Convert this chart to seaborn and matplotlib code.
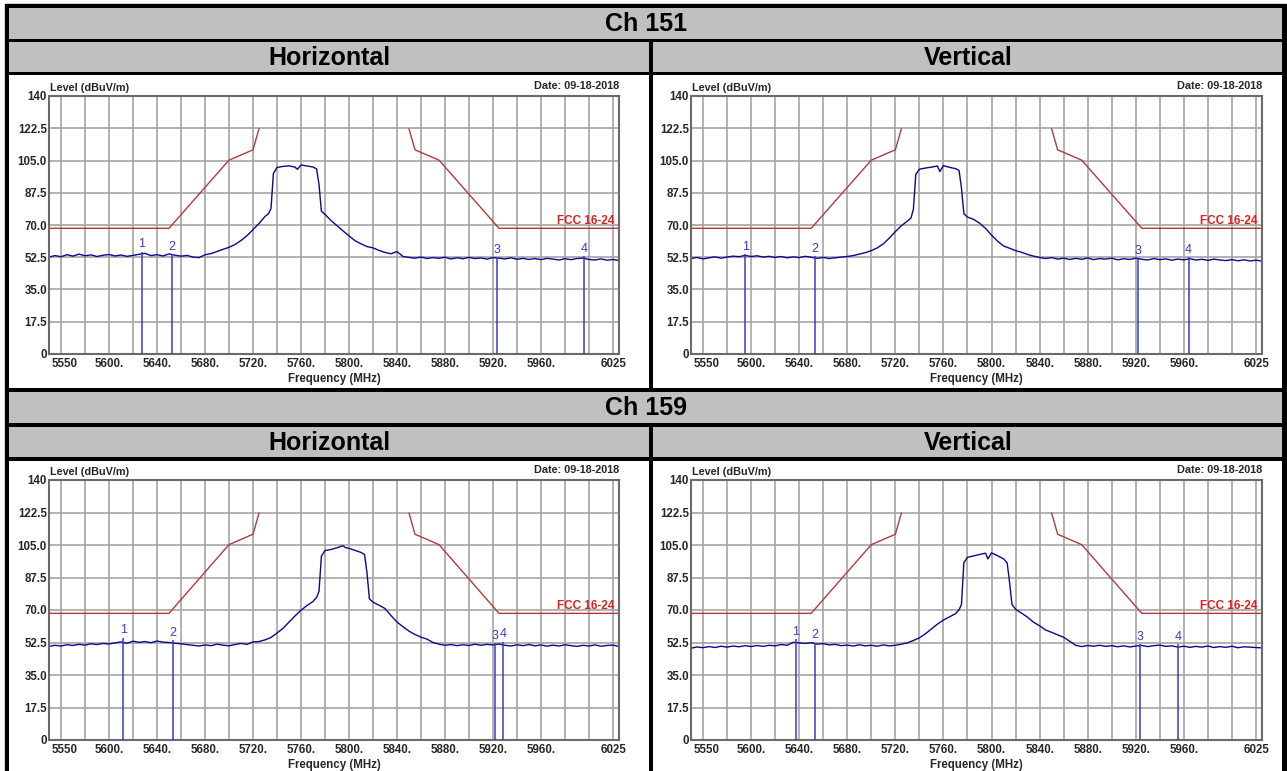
import numpy as np
import pandas as pd
import seaborn as sns
import matplotlib.pyplot as plt
import matplotlib.transforms as mtransforms
from matplotlib.patches import Rectangle

## Data
channels = ["Ch 151", "Ch 159"]
polarities = ["Horizontal", "Vertical"]
date_text = "Date: 09-18-2018"
limit_name = "FCC 16-24"

x_ticks = [5550, 5600, 5640, 5680, 5720, 5760, 5800, 5840, 5880, 5920, 5960, 6025]
x_tick_labels = ["5550", "5600.", "5640.", "5680.", "5720.", "5760.", "5800.",
                 "5840.", "5880.", "5920.", "5960.", "6025"]
x_grid = [5560, 5580, 5600, 5620, 5640, 5660, 5680, 5700, 5720, 5740, 5760, 5780,
          5800, 5820, 5840, 5860, 5880, 5900, 5920, 5940, 5960, 5980, 6000, 6020]
y_ticks = [0, 17.5, 35.0, 52.5, 70.0, 87.5, 105.0, 122.5, 140]
y_tick_labels = ["0", "17.5", "35.0", "52.5", "70.0", "87.5", "105.0", "122.5", "140"]

# FCC limit mask (dBuV/m)
mask_lo_f = [5550, 5650, 5700, 5720, 5725]
mask_lo_l = [68.2, 68.2, 105.2, 110.8, 122.2]
mask_hi_f = [5850, 5855, 5875, 5925, 6025]
mask_hi_l = [122.2, 110.8, 105.2, 68.2, 68.2]

# sweep frequencies (MHz)
freq_151 = [5550, 5555, 5560, 5565, 5570, 5575, 5580, 5585, 5590, 5595,
            5600, 5605, 5610, 5615, 5620, 5625, 5630, 5635, 5640, 5645,
            5650, 5655, 5660, 5665, 5670, 5675, 5680, 5685, 5690, 5695,
            5700, 5705, 5710, 5715, 5720, 5725, 5730, 5733, 5735, 5737,
            5740, 5745, 5750, 5755, 5757, 5760, 5765, 5770, 5773, 5775,
            5777, 5780, 5785, 5790, 5795, 5800, 5805, 5810, 5815, 5820,
            5825, 5830, 5835, 5840, 5845, 5850, 5855, 5860, 5865, 5870,
            5875, 5880, 5885, 5890, 5895, 5900, 5905, 5910, 5915, 5920,
            5925, 5930, 5935, 5940, 5945, 5950, 5955, 5960, 5965, 5970,
            5975, 5980, 5985, 5990, 5995, 6000, 6005, 6010, 6015, 6020,
            6025]
freq_159 = [5550, 5555, 5560, 5565, 5570, 5575, 5580, 5585, 5590, 5595,
            5600, 5605, 5610, 5615, 5620, 5625, 5630, 5635, 5640, 5645,
            5650, 5655, 5660, 5665, 5670, 5675, 5680, 5685, 5690, 5695,
            5700, 5705, 5710, 5715, 5720, 5725, 5730, 5735, 5740, 5745,
            5750, 5755, 5760, 5765, 5770, 5773, 5775, 5777, 5780, 5785,
            5790, 5795, 5797, 5800, 5805, 5810, 5813, 5815, 5817, 5820,
            5825, 5830, 5835, 5840, 5845, 5850, 5855, 5860, 5865, 5870,
            5875, 5880, 5885, 5890, 5895, 5900, 5905, 5910, 5915, 5920,
            5925, 5930, 5935, 5940, 5945, 5950, 5955, 5960, 5965, 5970,
            5975, 5980, 5985, 5990, 5995, 6000, 6005, 6010, 6015, 6020,
            6025]

# measured levels (dBuV/m)
level_151_h = [52.6, 53.4, 52.8, 53.9, 53.1, 54.2, 53.3, 53.8, 52.9, 53.6,
               54.0, 53.2, 53.7, 53.0, 53.5, 54.1, 54.6, 53.4, 53.9, 53.2,
               54.3, 53.6, 53.1, 53.5, 52.6, 52.3, 53.8, 54.5, 55.6, 56.8,
               57.9, 59.4, 61.6, 64.2, 67.5, 70.8, 74.6, 76.2, 78.9, 98.0,
               101.2, 101.8, 102.1, 101.4, 100.2, 102.6, 102.0, 101.5, 100.4, 92.0,
               77.5, 75.8, 72.4, 69.6, 66.8, 64.1, 61.5, 59.8, 58.3, 57.6,
               56.2, 55.1, 54.4, 55.6, 52.9, 52.4, 52.0, 52.6, 51.8, 52.3,
               51.9, 52.5, 51.6, 52.2, 51.7, 52.4, 51.8, 52.1, 51.5, 52.3,
               52.0, 51.6, 52.2, 51.4, 51.9, 51.3, 51.8, 51.2, 51.9, 51.5,
               51.0, 51.7, 51.2, 51.8, 52.0, 51.3, 51.0, 51.6, 50.9, 51.3,
               50.7]
level_151_v = [51.8, 52.4, 51.6, 52.2, 52.7, 52.0, 52.6, 53.1, 52.8, 53.5,
               52.9, 53.3, 52.6, 53.0, 52.4, 52.9, 52.2, 52.7, 52.3, 53.0,
               52.5, 51.9, 52.4, 51.8, 52.2, 52.6, 52.9, 53.4, 54.2, 55.0,
               56.1, 57.6, 59.8, 62.9, 66.4, 69.6, 72.1, 73.8, 78.5, 97.5,
               100.3, 100.9, 101.4, 102.0, 99.0, 102.2, 101.3, 100.6, 99.6, 90.0,
               76.2, 74.3, 73.1, 71.0, 68.2, 64.5, 61.3, 58.6, 57.4, 56.1,
               55.2, 54.0, 53.1, 52.4, 51.8, 52.3, 51.5, 52.0, 51.3, 51.9,
               51.4, 52.1, 51.2, 51.8, 51.5, 52.0, 51.1, 51.7, 51.3, 52.0,
               51.4, 51.0, 51.8, 51.2, 51.6, 50.9, 51.5, 51.1, 51.7, 51.0,
               51.4, 50.8, 51.5, 51.0, 50.7, 51.2, 50.6, 51.1, 50.5, 50.9,
               50.4]
level_159_h = [50.4, 51.0, 50.6, 51.3, 50.9, 51.5, 51.1, 51.8, 51.4, 52.0,
               51.7, 52.3, 52.8, 52.1, 53.2, 52.6, 53.0, 52.4, 53.3, 52.7,
               52.5, 52.1, 51.8, 51.4, 51.0, 50.6, 51.2, 50.8, 51.6, 51.1,
               50.7, 51.4, 52.0, 51.5, 52.8, 53.0, 53.9, 55.2, 57.6, 60.1,
               63.5, 66.8, 69.9, 72.4, 74.6, 76.8, 80.0, 99.0, 102.0, 102.6,
               103.5, 104.6, 103.6, 103.2, 102.1, 101.0, 99.8, 90.0, 76.0, 74.2,
               72.6, 70.8, 67.0, 63.5, 61.0, 58.6, 56.8, 55.4, 54.3, 52.5,
               51.6, 51.0, 51.4, 50.8, 51.3, 50.9, 51.6, 51.0, 51.5, 51.2,
               51.7, 51.0, 50.6, 51.3, 50.8, 51.4, 50.7, 51.2, 50.5, 51.1,
               50.6, 51.3, 50.8, 50.4, 51.0, 50.6, 51.2, 50.5, 50.9, 51.1,
               50.4]
level_159_v = [49.4, 50.1, 49.7, 50.3, 49.8, 50.5, 50.0, 50.6, 50.2, 50.8,
               50.3, 50.9, 50.4, 51.0, 50.7, 51.4, 51.0, 52.6, 52.3, 52.0,
               52.4, 51.6, 51.9, 51.2, 51.5, 50.8, 51.1, 50.6, 51.3, 50.7,
               51.0, 50.5, 51.2, 50.7, 51.0, 51.6, 52.3, 53.6, 55.0, 57.2,
               59.8, 62.4, 64.6, 66.3, 68.0, 70.1, 73.0, 95.5, 98.4, 99.1,
               99.9, 100.6, 97.5, 100.8, 99.2, 97.6, 95.4, 85.0, 73.0, 70.4,
               68.3, 66.1, 63.4, 61.5, 59.2, 58.0, 56.6, 55.3, 53.2, 51.0,
               50.3, 50.9, 50.5, 51.0, 50.4, 50.8, 50.2, 50.7, 50.1, 50.6,
               50.9, 50.3, 50.8, 51.1, 50.4, 50.7, 50.0, 50.5, 49.9, 50.4,
               50.0, 50.6, 49.8, 50.3, 49.9, 50.5, 49.7, 50.2, 50.0, 49.8,
               49.6]

# markers 1-4 (frequency, level)
mk_151_h_f = [5627.5, 5652.5, 5923, 5996]
mk_151_h_l = [55.6, 54.0, 52.4, 53.0]
mk_151_v_f = [5595, 5653, 5922, 5964]
mk_151_v_l = [54.3, 53.0, 51.8, 52.5]
mk_159_h_f = [5612, 5653, 5921.5, 5928.5]
mk_159_h_l = [55.0, 53.8, 52.0, 53.0]
mk_159_v_f = [5637, 5653, 5923.5, 5955]
mk_159_v_l = [54.2, 52.4, 51.5, 51.5]

## Style
sns.set_theme(style="white")
plt.rcParams['font.family'] = ['Liberation Sans', 'DejaVu Sans']

grid_c = "#a4a4a4"
frame_c = "#6a6a6a"
trace_c = "#0a0a8c"
mask_c = "#b33a3a"
marker_c = "#3a3ac8"
head_c = "#c0c0c0"

W, H = 1287, 771
fig = plt.figure(figsize=(W / 100, H / 100), dpi=100)

# table background drawn in pixel coordinates
bg = fig.add_axes([0, 0, 1, 1])
bg.set_xlim(0, W)
bg.set_ylim(H, 0)
bg.axis('off')

bg.add_patch(Rectangle((5, 4), 1281, H, color='black'))
cells = [
    (9, 8, 1282, 39, head_c),
    (9, 42, 649, 72, head_c), (653, 42, 1282, 72, head_c),
    (9, 75, 649, 388, 'white'), (653, 75, 1282, 388, 'white'),
    (9, 392, 1282, 423, head_c),
    (9, 427, 649, 457, head_c), (653, 427, 1282, 457, head_c),
    (9, 461, 649, H + 5, 'white'), (653, 461, 1282, H + 5, 'white'),
]
for x0, y0, x1, y1, c in cells:
    bg.add_patch(Rectangle((x0, y0), x1 - x0, y1 - y0, color=c, lw=0))

head_kw = dict(ha='center', va='center', fontsize=18, fontweight='bold', color='black')
bg.text(646, 24, channels[0], **head_kw)
bg.text(646, 408, channels[1], **head_kw)
for yy in [58, 443]:
    bg.text(329, yy, polarities[0], **head_kw)
    bg.text(968, yy, polarities[1], **head_kw)


def px_axes(x0, y0, x1, y1):
    return fig.add_axes([x0 / W, 1 - y1 / H, (x1 - x0) / W, (y1 - y0) / H])


def draw_panel(ax, freqs, levels, mk_f, mk_l):
    ax.set_xlim(5550, 6025)
    ax.set_ylim(0, 140)
    ax.set_facecolor('white')
    for g in x_grid:
        ax.axvline(g, color=grid_c, lw=1.2, zorder=0)
    for g in y_ticks[1:-1]:
        ax.axhline(g, color=grid_c, lw=1.2, zorder=0)

    sns.lineplot(x=mask_lo_f, y=mask_lo_l, ax=ax, color=mask_c, lw=1.0, sort=False)
    sns.lineplot(x=mask_hi_f, y=mask_hi_l, ax=ax, color=mask_c, lw=1.0, sort=False)
    sns.lineplot(x=freqs, y=levels, ax=ax, color=trace_c, lw=1.0,
                 estimator=None, sort=False)

    ax.vlines(mk_f, 0, mk_l, color=marker_c, lw=1.1, zorder=3)
    for i, (f, l) in enumerate(zip(mk_f, mk_l)):
        ax.annotate(str(i + 1), (f, l), xytext=(0, 1), textcoords='offset points',
                    ha='center', va='bottom', color=marker_c, fontsize=9)

    ax.annotate(limit_name, xy=(1, mask_hi_l[-1]), xycoords=('axes fraction', 'data'),
                xytext=(-3, 1), textcoords='offset points', ha='right', va='bottom',
                color='#e02020', fontsize=8.5, fontweight='bold')
    ax.annotate("Level (dBuV/m)", xy=(0, 1), xycoords='axes fraction',
                xytext=(1, 2), textcoords='offset points', ha='left', va='bottom',
                fontsize=7.8, fontweight='bold')
    ax.annotate(date_text, xy=(1, 1), xycoords='axes fraction',
                xytext=(0, 3.5), textcoords='offset points', ha='right', va='bottom',
                fontsize=7.8, fontweight='bold')

    for s in ax.spines.values():
        s.set_color(frame_c)
        s.set_linewidth(1.5)

    ax.set_xticks(x_ticks)
    ax.set_xticklabels(x_tick_labels)
    ax.set_yticks(y_ticks)
    ax.set_yticklabels(y_tick_labels)
    ax.tick_params(length=0, labelsize=8.3)
    ax.tick_params(axis='x', pad=3)
    ax.tick_params(axis='y', pad=1.5)
    for lbl in ax.get_xticklabels() + ax.get_yticklabels():
        lbl.set_fontweight('bold')
    xl = ax.get_xticklabels()
    xl[0].set_ha('left')
    xl[0].set_transform(xl[0].get_transform() +
                        mtransforms.ScaledTranslation(0.03, 0, fig.dpi_scale_trans))
    xl[-1].set_transform(xl[-1].get_transform() +
                         mtransforms.ScaledTranslation(-0.05, 0, fig.dpi_scale_trans))
    ax.set_xlabel("Frequency (MHz)", fontsize=8.3, fontweight='bold', labelpad=2)
    ax.set_ylabel("")


panels = [
    ((49, 96, 619, 354), freq_151, level_151_h, mk_151_h_f, mk_151_h_l),
    ((691, 96, 1262, 354), freq_151, level_151_v, mk_151_v_f, mk_151_v_l),
    ((49, 480, 619, 740), freq_159, level_159_h, mk_159_h_f, mk_159_h_l),
    ((691, 480, 1262, 740), freq_159, level_159_v, mk_159_v_f, mk_159_v_l),
]
for box, fr, lv, mf, ml in panels:
    ax = px_axes(*box)
    draw_panel(ax, fr, lv, mf, ml)

fig.savefig("out.png", dpi=100)
